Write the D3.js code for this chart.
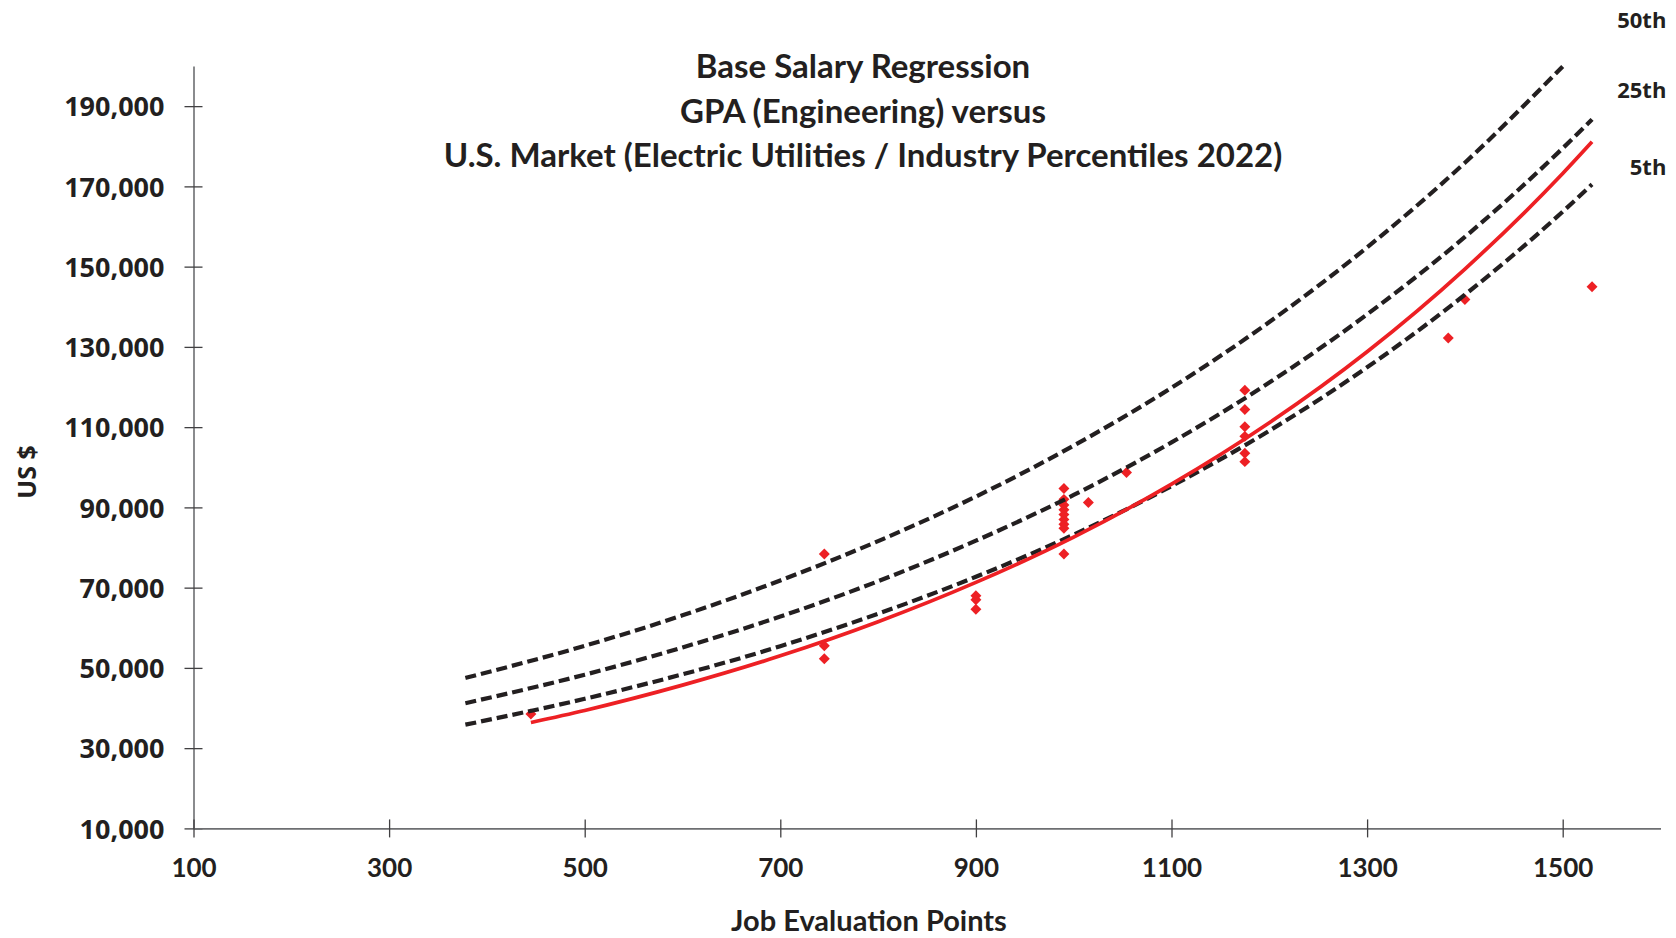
<!DOCTYPE html>
<html>
<head>
<meta charset="utf-8">
<script src="https://cdn.jsdelivr.net/npm/d3@7"></script>
<style>
  body { margin: 0; background: #fff; }
  text { fill: #231f20; font-weight: bold; }
</style>
</head>
<body>
<div class="chart"></div>
<script>
// ticks and labels
const xTicks = [100, 300, 500, 700, 900, 1100, 1300, 1500]
const yTicks = [10000, 30000, 50000, 70000, 90000, 110000, 130000, 150000, 170000, 190000]
const titleLines = [
    "Base Salary Regression",
    "GPA (Engineering) versus",
    "U.S. Market (Electric Utilities / Industry Percentiles 2022)"
]
const pctLabels = ["50th", "25th", "5th"]
const pctLabelY = [211400, 194000, 174800]

// incumbents (job evaluation points, base salary)
const jobPoints = [445, 745, 745, 745, 900, 900, 900,
    990, 990, 990, 990, 990, 990, 990, 990, 990,
    1015, 1054, 1175, 1175, 1175, 1175, 1175, 1175, 1383, 1400, 1530]
const baseSalary = [38500, 78400, 55500, 52300, 68000, 67000, 64600,
    94700, 92000, 90600, 89400, 88200, 87000, 85800, 84800, 78400,
    91200, 98700, 119200, 114400, 110100, 107700, 103500, 101400, 132200, 141800, 145000]

// market percentile lines, read at these points
const pctX = [378, 500, 600, 700, 800, 900, 1000, 1100, 1200, 1300, 1400, 1500, 1530]
const p50 = [47500, 55500, 63100, 71800, 81600, 92700, 105400, 119800, 136200, 154800, 175900, 199900, null]
const p25 = [41200, 48300, 55100, 62800, 71600, 81700, 93100, 106200, 121100, 138100, 157400, 179500, 186700]
const p5 = [35850, 42300, 48400, 55400, 63500, 72700, 83200, 95300, 109100, 124900, 143000, 163700, 170500]

// company regression line
const regX = [445, 500, 600, 700, 800, 900, 1000, 1100, 1200, 1300, 1400, 1500, 1530]
const regression = [36400, 39400, 45700, 53000, 61500, 71300, 82600, 95800, 111100, 128800, 149400, 173200, 181100]

const chart_param = {
    width: 1676,
    height: 938,
    margin: { top: 66, right: 15.5, bottom: 109.6, left: 193.5 }
}
const ink = "#231f20"
const red = "#ed2024"

const x = d3.scaleLinear()
            .domain([100, 1600])
            .range([chart_param.margin.left, chart_param.width - chart_param.margin.right])
const y = d3.scaleLinear()
            .domain([10000, 200000])
            .range([chart_param.height - chart_param.margin.bottom, chart_param.margin.top])

const svg = d3.select(".chart").append("svg")
    .attr("width", chart_param.width)
    .attr("height", chart_param.height)

// y axis, ticks cross the line
const yAxis = svg.append("g")
    .attr("transform", `translate(${x(100)},0)`)
    .call(d3.axisLeft(y).tickValues(yTicks).tickSize(9).tickSizeOuter(0).tickFormat(d3.format(",")))
yAxis.select(".domain").attr("stroke", "#6d6e71").attr("stroke-width", 1.6)
yAxis.selectAll(".tick line").attr("x1", 9).attr("stroke", "#414042").attr("stroke-width", 1.3)
yAxis.selectAll(".tick text")
    .attr("x", -29)
    .attr("dy", "0.36em")
    .style("font-family", "'Open Sans'")
    .style("font-size", "27px")

const xAxis = svg.append("g")
    .attr("transform", `translate(0,${y(10000)})`)
    .call(d3.axisBottom(x).tickValues(xTicks).tickSize(9).tickSizeOuter(0).tickFormat(d3.format("d")))
xAxis.select(".domain").attr("stroke", "#6d6e71").attr("stroke-width", 1.6)
xAxis.selectAll(".tick line").attr("y1", -9).attr("stroke", "#414042").attr("stroke-width", 1.3)
xAxis.selectAll(".tick text")
    .attr("y", 39)
    .attr("dy", "0.36em")
    .style("font-family", "Lato")
    .style("font-size", "26px")

// incumbent points (diamonds)
svg.selectAll(".pt")
    .data(jobPoints.map((d, i) => [d, baseSalary[i]]))
    .enter().append("path")
    .classed("pt", true)
    .attr("d", d3.symbol().type(d3.symbolSquare).size(60))
    .attr("transform", d => `translate(${x(d[0])},${y(d[1])}) rotate(45)`)
    .attr("fill", red)

const line = d3.line()
    .defined(d => d[1] != null)
    .x(d => x(d[0]))
    .y(d => y(d[1]))
    .curve(d3.curveMonotoneX)

// percentile lines
svg.selectAll(".pct")
    .data([p50, p25, p5])
    .enter().append("path")
    .classed("pct", true)
    .attr("d", vals => line(pctX.map((d, i) => [d, vals[i]])))
    .attr("fill", "none")
    .attr("stroke", ink)
    .attr("stroke-width", 4.2)
    .attr("stroke-dasharray", "11,5")

svg.append("path")
    .attr("d", line(regX.map((d, i) => [d, regression[i]])))
    .attr("fill", "none")
    .attr("stroke", red)
    .attr("stroke-width", 3.7)

// titles and labels
svg.selectAll(".title")
    .data(titleLines)
    .enter().append("text")
    .classed("title", true)
    .attr("x", 863)
    .attr("y", (d, i) => 78 + i * 44.5)
    .attr("text-anchor", "middle")
    .style("font-family", "Lato")
    .style("font-size", "33px")
    .text(d => d)

svg.selectAll(".pctlabel")
    .data(pctLabels)
    .enter().append("text")
    .classed("pctlabel", true)
    .attr("x", x(1606))
    .attr("y", (d, i) => y(pctLabelY[i]))
    .attr("dy", "0.36em")
    .attr("text-anchor", "end")
    .style("font-family", "'Open Sans'")
    .style("font-size", "22px")
    .text(d => d)

svg.append("text")
    .attr("x", 869)
    .attr("y", 931)
    .attr("text-anchor", "middle")
    .style("font-family", "Lato")
    .style("font-size", "29px")
    .text("Job Evaluation Points")

svg.append("text")
    .attr("transform", "translate(36,472) rotate(-90)")
    .attr("text-anchor", "middle")
    .style("font-family", "'Open Sans'")
    .style("font-size", "25px")
    .text("US $")
</script>
</body>
</html>
